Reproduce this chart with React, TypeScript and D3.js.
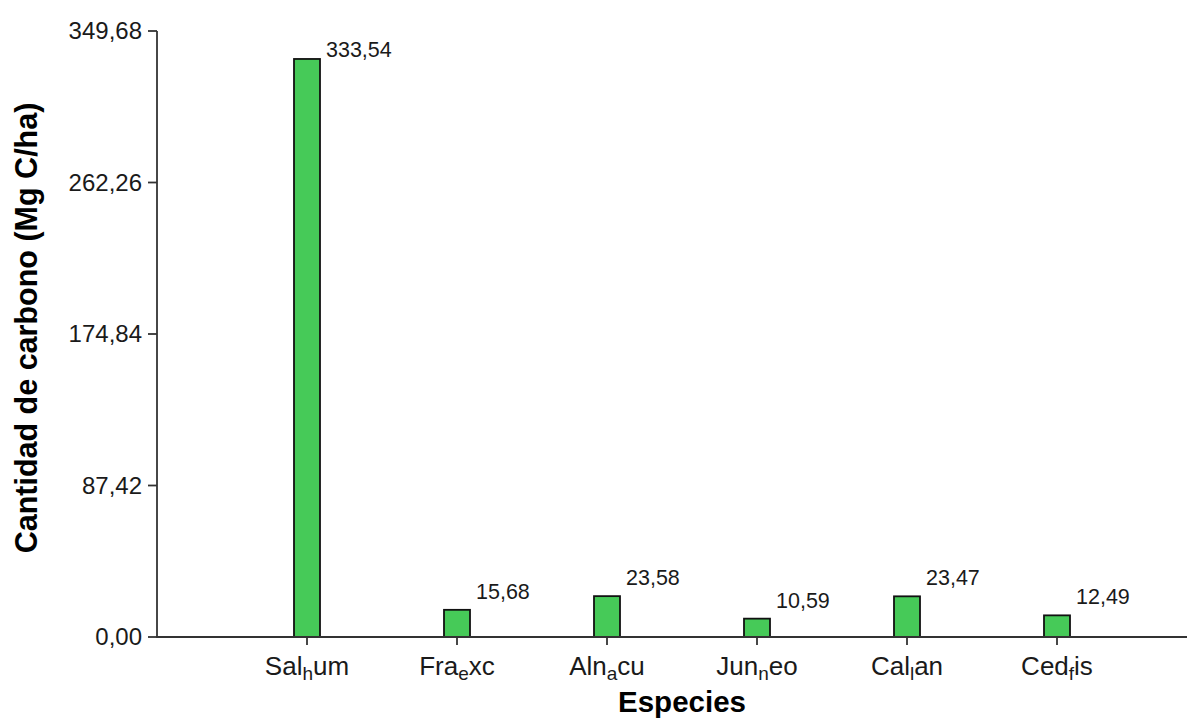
import React from "react";
import * as d3 from "d3";

const categories = ["Sal_hum", "Fra_exc", "Aln_acu", "Jun_neo", "Cal_lan", "Ced_fis"];
const carbon = [333.54, 15.68, 23.58, 10.59, 23.47, 12.49];
const yTicks = [0, 87.42, 174.84, 262.26, 349.68];
const xTitle = "Especies";
const yTitle = "Cantidad de carbono (Mg C/ha)";

const W = 1187;
const H = 718;
const FONT = "'Liberation Sans', Arial, sans-serif";

const esLocale = d3.formatLocale({ decimal: ",", thousands: ".", grouping: [3], currency: ["", "€"] });
const fmt = esLocale.format(".2f");

export default function App() {
  const x = d3.scaleLinear().domain([0, 7]).range([157, 1207]);
  const y = d3.scaleLinear().domain([0, yTicks[yTicks.length - 1]]).range([637, 31]);
  const barW = 26;
  const x0 = x(0);
  const yBase = y(0);
  const yTopPlot = y.range()[1];

  const renderLabel = (s: string) => {
    const idx = s.indexOf("_");
    if (idx < 0) return s;
    const pre = s.slice(0, idx);
    const sub = s.slice(idx + 1, idx + 2);
    const post = s.slice(idx + 2);
    return [
      <tspan key="a">{pre}</tspan>,
      <tspan key="b" fontSize={19} dy={5}>{sub}</tspan>,
      <tspan key="c" dy={-5}>{post}</tspan>,
    ];
  };

  return (
    <div style={{ position: "absolute", left: 0, top: 0 }}>
      <svg width={W} height={H} style={{ display: "block", background: "#fff" }} fontFamily={FONT}>
        {/* bars */}
        {carbon.map((v, i) => {
          const cx = x(i + 1);
          return (
            <rect
              key={"b" + i}
              x={cx - barW / 2}
              y={y(v)}
              width={barW}
              height={yBase - y(v)}
              fill="#46CA58"
              stroke="#111"
              strokeWidth={1.8}
            />
          );
        })}
        {/* value labels */}
        {carbon.map((v, i) => {
          const cx = x(i + 1);
          const by = Math.max(y(v) - 11, yTopPlot + 26);
          return (
            <text key={"v" + i} x={cx + barW / 2 + 6} y={by} fontSize={21.5} fill="#1a1a1a">
              {fmt(v)}
            </text>
          );
        })}
        {/* y axis */}
        <line x1={x0} x2={x0} y1={yTopPlot} y2={yBase} stroke="#333" strokeWidth={1.8} />
        {yTicks.map((t, i) => (
          <g key={"yt" + i}>
            <line x1={x0 - 9} x2={x0} y1={y(t)} y2={y(t)} stroke="#333" strokeWidth={1.8} />
            <text x={x0 - 15} y={y(t)} dy="0.34em" textAnchor="end" fontSize={24} fill="#1a1a1a">
              {fmt(t)}
            </text>
          </g>
        ))}
        {/* x axis */}
        <line x1={x0 - 1} x2={W} y1={yBase} y2={yBase} stroke="#333" strokeWidth={1.8} />
        {categories.map((c, i) => (
          <g key={"xt" + i}>
            <line x1={x(i + 1)} x2={x(i + 1)} y1={yBase} y2={yBase + 8} stroke="#333" strokeWidth={1.8} />
            <text x={x(i + 1)} y={675} textAnchor="middle" fontSize={26} fill="#1a1a1a">
              {renderLabel(c)}
            </text>
          </g>
        ))}
        {/* titles */}
        <text x={x(3.5)} y={712} textAnchor="middle" fontSize={29.5} fontWeight="bold" fill="#000">
          {xTitle}
        </text>
        <text
          transform={`translate(37, ${(yTopPlot + yBase) / 2 - 6}) rotate(-90)`}
          textAnchor="middle"
          fontSize={30.5}
          fontWeight="bold"
          fill="#000"
        >
          {yTitle}
        </text>
      </svg>
    </div>
  );
}
